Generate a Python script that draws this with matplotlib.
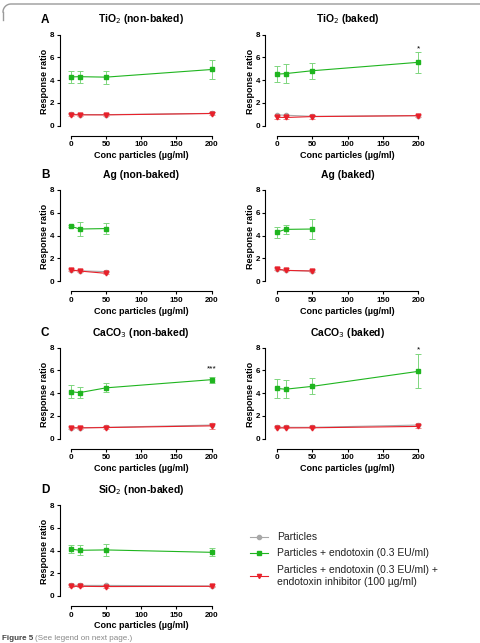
import matplotlib
matplotlib.use("Agg")
import numpy as np
import matplotlib.pyplot as plt

plt.rcParams['font.family'] = ['Liberation Sans', 'DejaVu Sans']

conc = [0, 12.5, 50, 200]
conc_ag = [0, 12.5, 50]

# TiO2 non-baked
tio2_nb_part = [1.0, 0.98, 0.97, 1.08]
tio2_nb_endo = [4.28, 4.3, 4.26, 4.93]
tio2_nb_endo_err = [0.56, 0.52, 0.56, 0.8]
tio2_nb_inhib = [0.97, 0.95, 0.95, 1.07]
tio2_nb_inhib_err = [0.1, 0.08, 0.07, 0.12]

# TiO2 baked
tio2_b_part = [0.95, 0.92, 0.82, 0.88]
tio2_b_endo = [4.52, 4.57, 4.82, 5.56]
tio2_b_endo_err = [0.72, 0.8, 0.7, 0.92]
tio2_b_inhib = [0.74, 0.72, 0.8, 0.88]
tio2_b_inhib_err = [0.12, 0.15, 0.18, 0.08]

# Ag non-baked
ag_nb_part = [1.0, 0.92, 0.85]
ag_nb_endo = [4.84, 4.58, 4.62]
ag_nb_endo_err = [0.1, 0.58, 0.5]
ag_nb_inhib = [0.99, 0.9, 0.7]
ag_nb_inhib_err = [0.05, 0.06, 0.1]

# Ag baked
ag_b_part = [1.05, 0.95, 0.9]
ag_b_endo = [4.3, 4.55, 4.58]
ag_b_endo_err = [0.47, 0.4, 0.85]
ag_b_inhib = [1.08, 0.96, 0.9]
ag_b_inhib_err = [0.06, 0.05, 0.1]

# CaCO3 non-baked
caco3_nb_part = [0.98, 0.96, 1.0, 1.2]
caco3_nb_endo = [4.13, 4.05, 4.47, 5.19]
caco3_nb_endo_err = [0.57, 0.5, 0.4, 0.25]
caco3_nb_inhib = [0.95, 0.95, 0.98, 1.13]
caco3_nb_inhib_err = [0.06, 0.06, 0.1, 0.25]

# CaCO3 baked
caco3_b_part = [1.0, 1.0, 1.0, 1.2]
caco3_b_endo = [4.42, 4.35, 4.6, 5.92]
caco3_b_endo_err = [0.85, 0.8, 0.7, 1.5]
caco3_b_inhib = [0.95, 0.95, 0.96, 1.08]
caco3_b_inhib_err = [0.05, 0.05, 0.06, 0.1]

# SiO2 non-baked
sio2_nb_part = [0.95, 0.93, 0.93, 0.88]
sio2_nb_endo = [4.13, 4.02, 4.05, 3.84]
sio2_nb_endo_err = [0.35, 0.45, 0.5, 0.35]
sio2_nb_inhib = [0.85, 0.85, 0.83, 0.85]
sio2_nb_inhib_err = [0.1, 0.08, 0.1, 0.05]

titles = ['TiO$_2$ (non-baked)', 'TiO$_2$ (baked)', 'Ag (non-baked)', 'Ag (baked)',
          'CaCO$_3$ (non-baked)', 'CaCO$_3$ (baked)', 'SiO$_2$ (non-baked)']
letters = ['A', None, 'B', None, 'C', None, 'D']
stars = ['', '*', '', '', '***', '*', '']
star_y = [0, 6.75, 0, 0, 6.1, 7.85, 0]

panels = [
    (conc, tio2_nb_part, tio2_nb_endo, tio2_nb_endo_err, tio2_nb_inhib, tio2_nb_inhib_err),
    (conc, tio2_b_part, tio2_b_endo, tio2_b_endo_err, tio2_b_inhib, tio2_b_inhib_err),
    (conc_ag, ag_nb_part, ag_nb_endo, ag_nb_endo_err, ag_nb_inhib, ag_nb_inhib_err),
    (conc_ag, ag_b_part, ag_b_endo, ag_b_endo_err, ag_b_inhib, ag_b_inhib_err),
    (conc, caco3_nb_part, caco3_nb_endo, caco3_nb_endo_err, caco3_nb_inhib, caco3_nb_inhib_err),
    (conc, caco3_b_part, caco3_b_endo, caco3_b_endo_err, caco3_b_inhib, caco3_b_inhib_err),
    (conc, sio2_nb_part, sio2_nb_endo, sio2_nb_endo_err, sio2_nb_inhib, sio2_nb_inhib_err),
]

GREEN = '#1fb51f'
GREEN_LIGHT = '#7fd67f'
RED = '#e8202a'
RED_LIGHT = '#f08a8a'
GRAY = '#a8a8a8'

W, H = 480, 643
fig = plt.figure(figsize=(W / 100, H / 100), dpi=100)

# pixel positions of x=0, x=200, y=8, y=0 for each panel
col_x = [(70.7, 211.7), (276.7, 418.3)]
row_y = [(34.5, 125.7), (190, 281.3), (347.7, 438.7), (505, 596)]

xlo, xhi = -8, 208
ylo, yhi = -0.4, 8.2

for i, (x, part, endo, endo_err, inhib, inhib_err) in enumerate(panels):
    c, r = i % 2, i // 2
    x0, x200 = col_x[c]
    y8, y0 = row_y[r]
    sx = (x200 - x0) / 200
    sy = (y0 - y8) / 8
    left = x0 + xlo * sx
    right = x0 + xhi * sx
    top = y8 - (yhi - 8) * sy
    bottom = y0 - ylo * sy
    ax = fig.add_axes([left / W, 1 - bottom / H, (right - left) / W, (bottom - top) / H])

    ax.plot(x, part, color=GRAY, marker='o', ms=3, lw=0.8, zorder=2)
    ax.errorbar(x, endo, yerr=endo_err, color=GREEN, ecolor=GREEN_LIGHT, marker='s', ms=3.5,
                lw=0.8, elinewidth=0.7, capsize=2, capthick=0.7, zorder=3)
    ax.errorbar(x, inhib, yerr=inhib_err, color=RED, ecolor=RED_LIGHT, marker='v', ms=3.5,
                lw=0.8, elinewidth=0.7, capsize=2, capthick=0.7, zorder=4)
    if stars[i]:
        ax.text(200, star_y[i], stars[i], ha='center', va='center', fontsize=6)

    ax.set_xlim(xlo, xhi)
    ax.set_ylim(ylo, yhi)
    ax.set_xticks([0, 50, 100, 150, 200])
    ax.set_yticks([0, 2, 4, 6, 8])
    for s in ['top', 'right']:
        ax.spines[s].set_visible(False)
    ax.spines['left'].set_position(('outward', 4))
    ax.spines['bottom'].set_position(('outward', 4))
    ax.spines['left'].set_bounds(0, 8)
    ax.spines['bottom'].set_bounds(0, 200)
    for s in ['left', 'bottom']:
        ax.spines[s].set_linewidth(0.8)
    ax.tick_params(length=2.5, width=0.8, labelsize=5.8, pad=1.5)
    for lab in ax.get_xticklabels() + ax.get_yticklabels():
        lab.set_fontweight('bold')
    ax.set_xlabel('Conc particles (\u00b5g/ml)', fontsize=6.5, fontweight='bold', labelpad=2)
    ax.set_ylabel('Response ratio', fontsize=6.5, fontweight='bold', labelpad=0.5)
    ax.set_title(titles[i], fontsize=7.5, fontweight='bold', pad=7)
    if letters[i]:
        fig.text(45 / W, 1 - (top - 12.5) / H, letters[i], fontsize=8.5, fontweight='bold',
                 ha='center', va='center')

# legend
leg_items = [
    (537, GRAY, 'o', 'Particles'),
    (553, GREEN, 's', 'Particles + endotoxin (0.3 EU/ml)'),
    (576, RED, 'v', 'Particles + endotoxin (0.3 EU/ml) +\nendotoxin inhibitor (100 \u00b5g/ml)'),
]
lax = fig.add_axes([0, 0, 1, 1], facecolor='none')
lax.set_xlim(0, W)
lax.set_ylim(H, 0)
lax.axis('off')
for y, col, mk, label in leg_items:
    lax.plot([250, 268], [y, y], color=col, lw=0.8)
    lax.plot([259], [y], color=col, marker=mk, ms=3)
    lax.text(277, y, label, fontsize=7.5, va='center', ha='left', color='#222222',
             linespacing=1.15)

# caption
lax.text(2, 638, 'Figure 5', fontsize=5.8, fontweight='bold', color='#444444', va='center')
lax.text(35, 638, '(See legend on next page.)', fontsize=5.8, color='#888888', va='center')

# page frame: top edge with a rounded left corner
t = np.linspace(np.pi, 1.5 * np.pi, 20)
rad = 8
arc_x = 3 + rad + rad * np.cos(t)
arc_y = 4 + rad + rad * np.sin(t)
lax.plot(np.r_[arc_x, W], np.r_[arc_y, 4], color='#9a9a9a', lw=1, clip_on=False)
lax.plot([3, 3], [4 + rad, 20], color='#9a9a9a', lw=1)

fig.savefig('out.png', dpi=100)
